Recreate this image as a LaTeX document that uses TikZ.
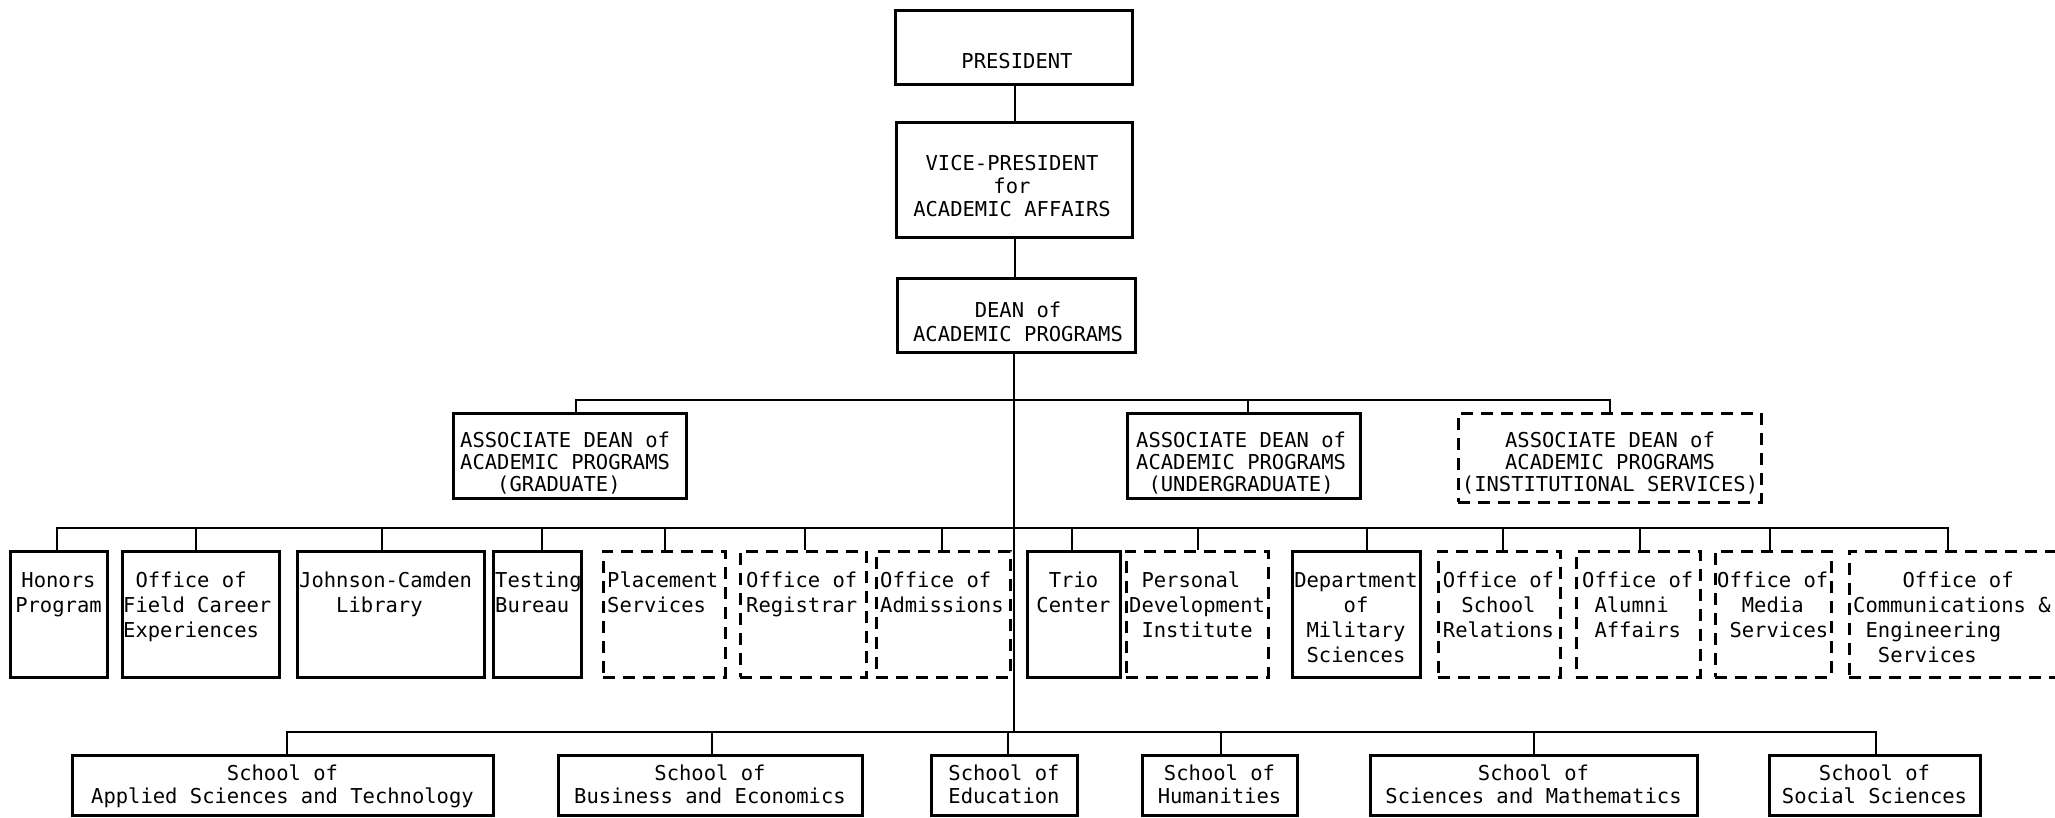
\documentclass[tikz,border=0pt]{standalone}
\usepackage{fontspec}
\setmonofont{DejaVu Sans Mono}
\newcommand\bx[6]{\node[#2, minimum width={(#5)-(#3)}, minimum height={(#6)-(#4)}] (#1) at ({((#3)+(#5))/2},{((#4)+(#6))/2}) {};}
\begin{document}
\begin{tikzpicture}[x=1pt,y=-1pt,
  sbox/.style={draw, line width=3pt, inner sep=0pt},
  dbox/.style={sbox, dash pattern=on 12pt off 8pt},
  conn/.style={line width=2.8pt},
  txt/.style={inner sep=0pt, font=\ttfamily\fontsize{20.5}{24}\selectfont},
  rowtxt/.style={font=\ttfamily\fontsize{20.5}{25}\selectfont},
  tc/.style={txt, anchor=north, align=center},
  tl/.style={txt, anchor=north west, align=left},
]
\useasboundingbox (0,0) rectangle (2055,817);
\clip (0,0) rectangle (2055,817);

% top chain
\bx{pres}{sbox}{895}{10}{1132}{84}
\bx{vp}{sbox}{896}{122}{1132}{237}
\bx{dean}{sbox}{897}{278}{1135}{352}
\node[tc] (tpres) at (1017,53) {PRESIDENT};
\node[tc, font=\ttfamily\fontsize{20.5}{23}\selectfont] (tvp) at (1012,155) {VICE-PRESIDENT\\for\\ACADEMIC AFFAIRS};
\node[tc, font=\ttfamily\fontsize{20.5}{23.5}\selectfont] (tdean) at (1018,302) {DEAN of\\ACADEMIC PROGRAMS};

% associate deans
\bx{grad}{sbox}{453}{413}{686}{498}
\bx{ug}{sbox}{1127}{413}{1360}{498}
\bx{inst}{dbox}{1458}{413}{1761}{502}
\node[tl, font=\ttfamily\fontsize{20.5}{22}\selectfont] (tgrad) at (460,432) {ASSOCIATE DEAN of\\ACADEMIC PROGRAMS\\~~~(GRADUATE)};
\node[tl, font=\ttfamily\fontsize{20.5}{22}\selectfont] (tug) at (1136,432) {ASSOCIATE DEAN of\\ACADEMIC PROGRAMS\\~(UNDERGRADUATE)};
\node[tc, font=\ttfamily\fontsize{20.5}{22}\selectfont] (tinst) at (1610,432) {ASSOCIATE DEAN of\\ACADEMIC PROGRAMS\\(INSTITUTIONAL SERVICES)};

% offices row
\bx{hon}{sbox}{10}{551}{107}{677}
\bx{fld}{sbox}{122}{551}{279}{677}
\bx{jc}{sbox}{297}{551}{484}{677}
\bx{tst}{sbox}{493}{551}{581}{677}
\bx{plc}{dbox}{603}{551}{725}{677}
\bx{reg}{dbox}{740}{551}{866}{677}
\bx{adm}{dbox}{876}{551}{1010}{677}
\bx{trio}{sbox}{1027}{551}{1120}{677}
\bx{pdi}{dbox}{1126}{551}{1268}{677}
\bx{mil}{sbox}{1292}{551}{1420}{677}
\bx{rel}{dbox}{1438}{551}{1560}{677}
\bx{alu}{dbox}{1576}{551}{1700}{677}
\bx{med}{dbox}{1715}{551}{1831}{677}
\bx{com}{dbox}{1849}{551}{2070}{677}

\node[tc, rowtxt] (thon) at (58.5,572) {Honors\\Program};
\node[tl, rowtxt] (tfld) at (123,572) {~Office of\\Field Career\\Experiences};
\node[tl, rowtxt] (tjc) at (299,572) {Johnson-Camden\\~~~Library};
\node[tl, rowtxt] (ttst) at (495,572) {Testing\\Bureau};
\node[tl, rowtxt] (tplc) at (607,572) {Placement\\Services};
\node[tl, rowtxt] (treg) at (746,572) {Office of\\Registrar};
\node[tl, rowtxt] (tadm) at (880,572) {Office of\\Admissions};
\node[tc, rowtxt] (ttrio) at (1073.5,572) {Trio\\Center};
\node[tl, rowtxt] (tpdi) at (1129,572) {~Personal\\Development\\~Institute};
\node[tc, rowtxt] (tmil) at (1356,572) {Department\\of\\Military\\Sciences};
\node[tc, rowtxt] (trel) at (1498.5,572) {Office of\\School\\Relations};
\node[tl, rowtxt] (talu) at (1582,572) {Office of\\~Alumni\\~Affairs};
\node[tl, rowtxt] (tmed) at (1717,572) {Office of\\~~Media\\~Services};
\node[tl, rowtxt] (tcom) at (1853,572) {~~~~Office of\\Communications~\&\\~Engineering\\~~Services};

% schools
\bx{app}{sbox}{72}{755}{493}{815}
\bx{bus}{sbox}{558}{755}{862}{815}
\bx{edu}{sbox}{931}{755}{1077}{815}
\bx{hum}{sbox}{1142}{755}{1297}{815}
\bx{sci}{sbox}{1370}{755}{1697}{815}
\bx{soc}{sbox}{1769}{755}{1980}{815}
\node[tc, font=\ttfamily\fontsize{20.5}{23}\selectfont] (tapp) at (282.5,765) {School of\\Applied Sciences and Technology};
\node[tc, font=\ttfamily\fontsize{20.5}{23}\selectfont] (tbus) at (710,765) {School of\\Business and Economics};
\node[tc, font=\ttfamily\fontsize{20.5}{23}\selectfont] (tedu) at (1004,765) {School of\\Education};
\node[tc, font=\ttfamily\fontsize{20.5}{23}\selectfont] (thum) at (1219.5,765) {School of\\Humanities};
\node[tc, font=\ttfamily\fontsize{20.5}{23}\selectfont] (tsci) at (1533.5,765) {School of\\Sciences and Mathematics};
\node[tc, font=\ttfamily\fontsize{20.5}{23}\selectfont] (tsoc) at (1874.5,765) {School of\\Social Sciences};

% connectors
\draw[conn] (pres.south -| 1015,0) -- (vp.north -| 1015,0);
\draw[conn] (vp.south -| 1015,0) -- (dean.north -| 1015,0);
\draw[conn] (dean.south -| 1014,0) -- (1014,732);
\draw[conn] (grad.north -| 576,0) -- (576,400) -- (1610,400) -- (inst.north -| 1610,0);
\draw[conn] (ug.north -| 1248,0) -- (1248,400);
\draw[conn] (hon.north -| 57,0) -- (57,528) -- (1948,528) -- (com.north -| 1948,0);
\foreach \n/\x in {fld/196, jc/382, tst/542, plc/665, reg/805, adm/942, trio/1072, pdi/1198, mil/1367, rel/1503, alu/1640, med/1770}
  \draw[conn] (\n.north -| \x,0) -- (\x,528);
\draw[conn] (app.north -| 287,0) -- (287,732) -- (1876,732) -- (soc.north -| 1876,0);
\foreach \n/\x in {bus/712, edu/1008, hum/1221, sci/1534}
  \draw[conn] (\n.north -| \x,0) -- (\x,732);
\end{tikzpicture}
\end{document}
